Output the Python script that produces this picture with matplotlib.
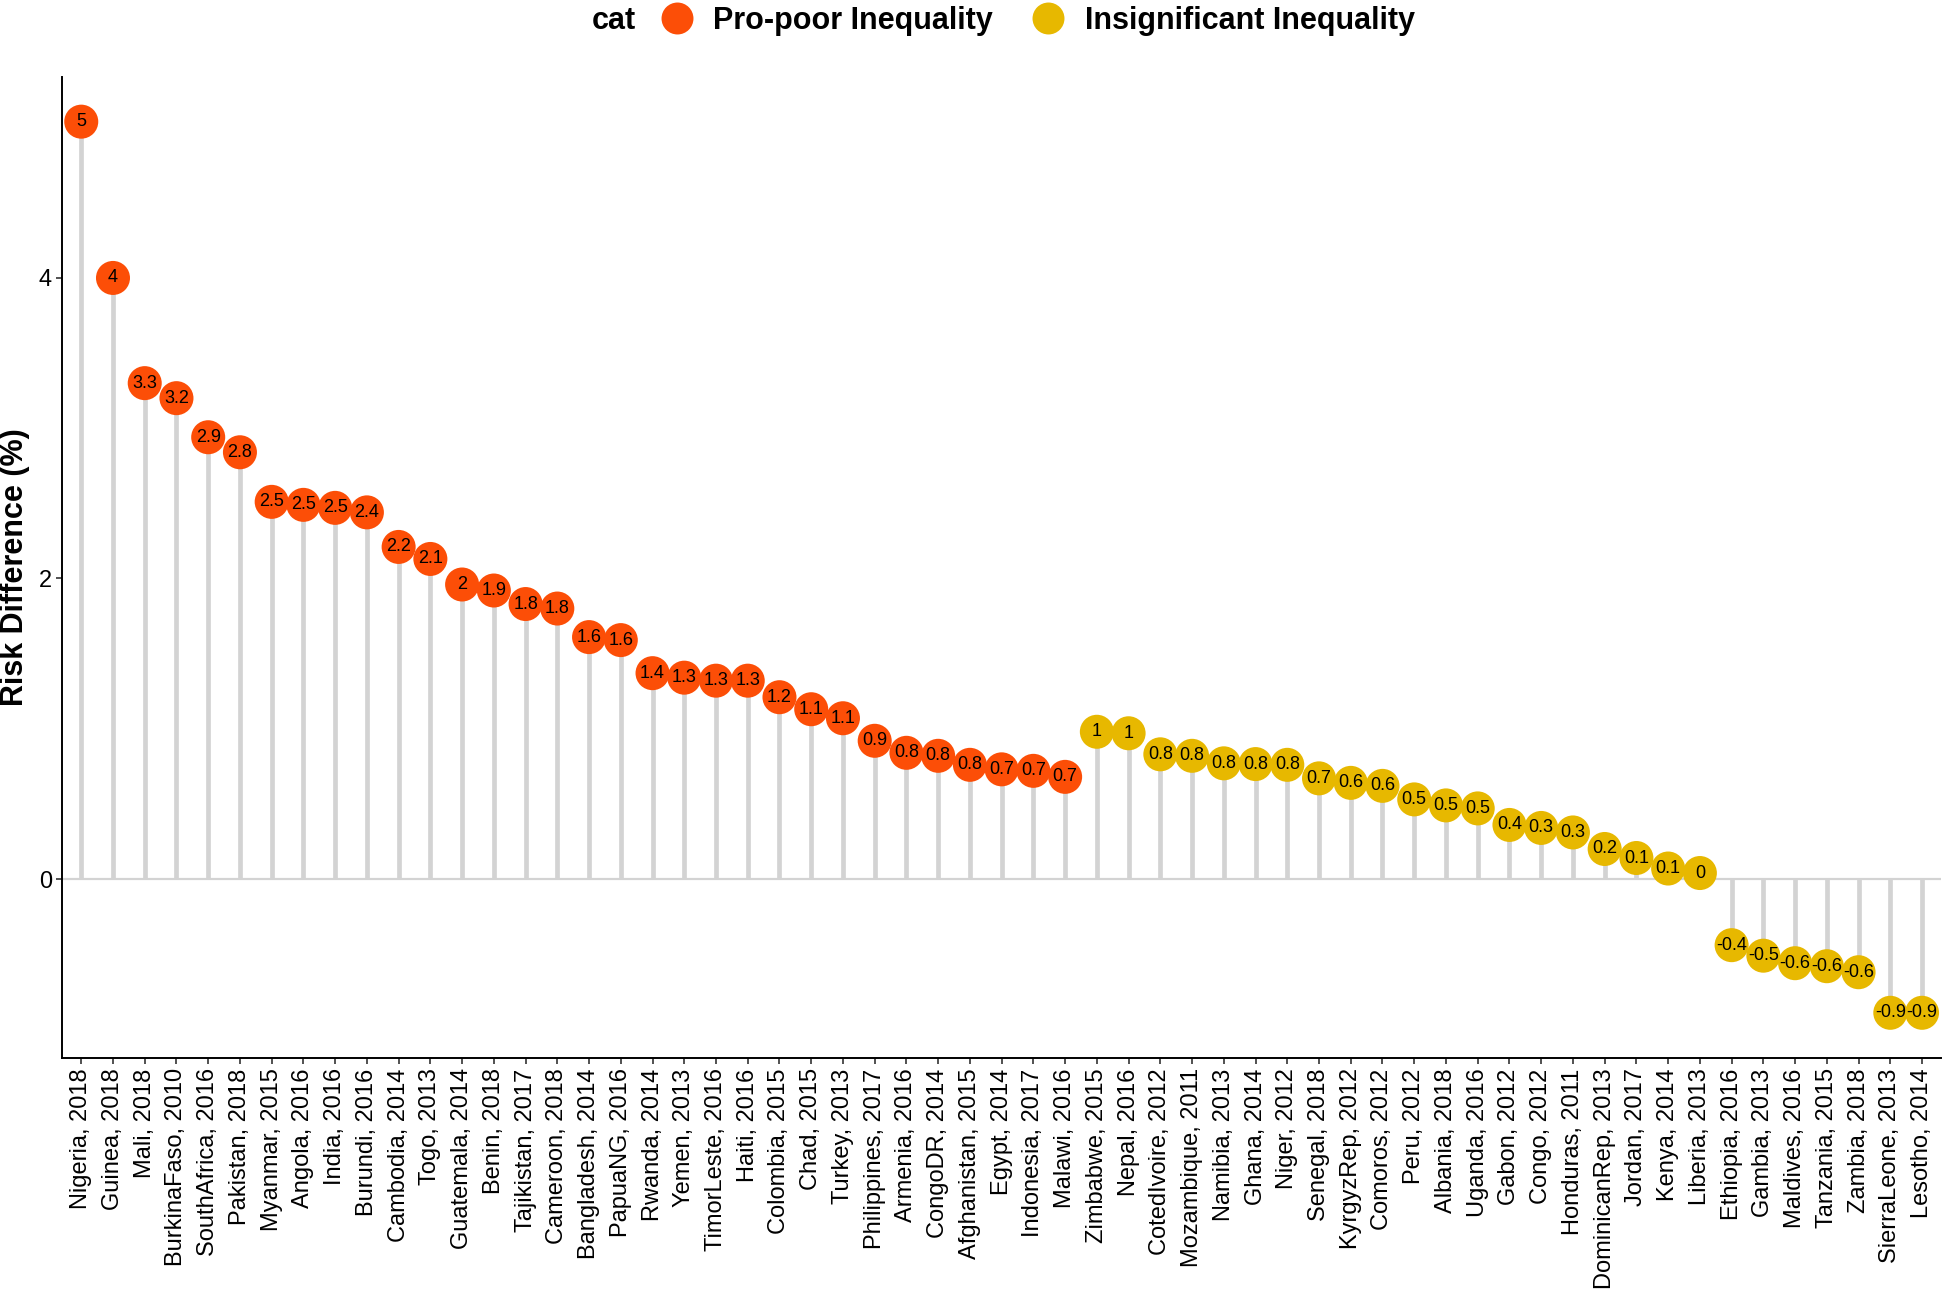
import matplotlib
matplotlib.use("Agg")
import matplotlib.pyplot as plt
from matplotlib.lines import Line2D

plt.rcParams['font.family'] = ['Liberation Sans', 'DejaVu Sans']

countries = ["Nigeria, 2018", "Guinea, 2018", "Mali, 2018", "BurkinaFaso, 2010", "SouthAfrica, 2016",
             "Pakistan, 2018", "Myanmar, 2015", "Angola, 2016", "India, 2016", "Burundi, 2016",
             "Cambodia, 2014", "Togo, 2013", "Guatemala, 2014", "Benin, 2018", "Tajikistan, 2017",
             "Cameroon, 2018", "Bangladesh, 2014", "PapuaNG, 2016", "Rwanda, 2014", "Yemen, 2013",
             "TimorLeste, 2016", "Haiti, 2016", "Colombia, 2015", "Chad, 2015", "Turkey, 2013",
             "Philippines, 2017", "Armenia, 2016", "CongoDR, 2014", "Afghanistan, 2015", "Egypt, 2014",
             "Indonesia, 2017", "Malawi, 2016",
             "Zimbabwe, 2015", "Nepal, 2016", "CotedIvoire, 2012", "Mozambique, 2011", "Namibia, 2013",
             "Ghana, 2014", "Niger, 2012", "Senegal, 2018", "KyrgyzRep, 2012", "Comoros, 2012",
             "Peru, 2012", "Albania, 2018", "Uganda, 2016", "Gabon, 2012", "Congo, 2012",
             "Honduras, 2011", "DominicanRep, 2013", "Jordan, 2017", "Kenya, 2014", "Liberia, 2013",
             "Ethiopia, 2016", "Gambia, 2013", "Maldives, 2016", "Tanzania, 2015", "Zambia, 2018",
             "SierraLeone, 2013", "Lesotho, 2014"]

risk_diff = [5.04, 4.00, 3.30, 3.20, 2.94, 2.84, 2.51, 2.49, 2.47, 2.44,
             2.21, 2.13, 1.96, 1.92, 1.83, 1.80, 1.61, 1.59, 1.37, 1.34,
             1.32, 1.32, 1.21, 1.13, 1.07, 0.92, 0.84, 0.82, 0.76, 0.73,
             0.72, 0.68,
             0.98, 0.97, 0.83, 0.82, 0.77, 0.765, 0.76, 0.67, 0.64, 0.62,
             0.53, 0.49, 0.47, 0.36, 0.34, 0.31, 0.20, 0.14, 0.07, 0.04,
             -0.44, -0.51, -0.56, -0.58, -0.62, -0.89, -0.89]

category = ["Pro-poor Inequality"] * 32 + ["Insignificant Inequality"] * 27

palette = {"Pro-poor Inequality": "#FC4E07", "Insignificant Inequality": "#E7B800"}

fig = plt.figure(figsize=(19.44, 12.98), dpi=100)
ax = fig.add_axes([0.032, 0.185, 0.9665, 0.756])

x = list(range(len(countries)))
ax.axhline(0, color="#D3D3D3", lw=1.6, zorder=1)
ax.vlines(x, 0, risk_diff, color="#D3D3D3", lw=3.4, zorder=2)
ax.scatter(x, risk_diff, s=600, c=[palette[c] for c in category], zorder=3, linewidths=0)

for xi, v in zip(x, risk_diff):
    lab = f"{round(v, 1):g}"
    if lab == "-0":
        lab = "0"
    ax.text(xi, v, lab, ha="center", va="center", fontsize=13, color="black", zorder=4)

ax.set_xlim(-0.6, len(countries) - 0.4)
ax.set_ylim(-1.19, 5.34)
ax.set_xticks(x)
ax.set_xticklabels(countries, rotation=90, fontsize=17)
ax.set_yticks([0, 2, 4])
ax.set_yticklabels(["0", "2", "4"], fontsize=17)
ax.tick_params(axis="both", length=4, width=1.2, color="#333333")
ax.set_ylabel("Risk Difference (%)", fontsize=22, fontweight="bold", labelpad=6)

for side in ["top", "right"]:
    ax.spines[side].set_visible(False)
for side in ["left", "bottom"]:
    ax.spines[side].set_linewidth(1.4)

# legend across the top, title to the left
fig.text(0.316, 0.984, "cat", fontsize=22, fontweight="bold", ha="center", va="center")
handles = [Line2D([], [], marker="o", ls="", markersize=23, markerfacecolor=palette[k],
                  markeredgewidth=0, label=k) for k in palette]
leg = fig.legend(handles=handles, loc="center", bbox_to_anchor=(0.53, 0.984), ncol=2,
                 frameon=False, handletextpad=0.2, columnspacing=0.8,
                 prop={"size": 22, "weight": "bold"})

fig.savefig("out.png", dpi=100)
